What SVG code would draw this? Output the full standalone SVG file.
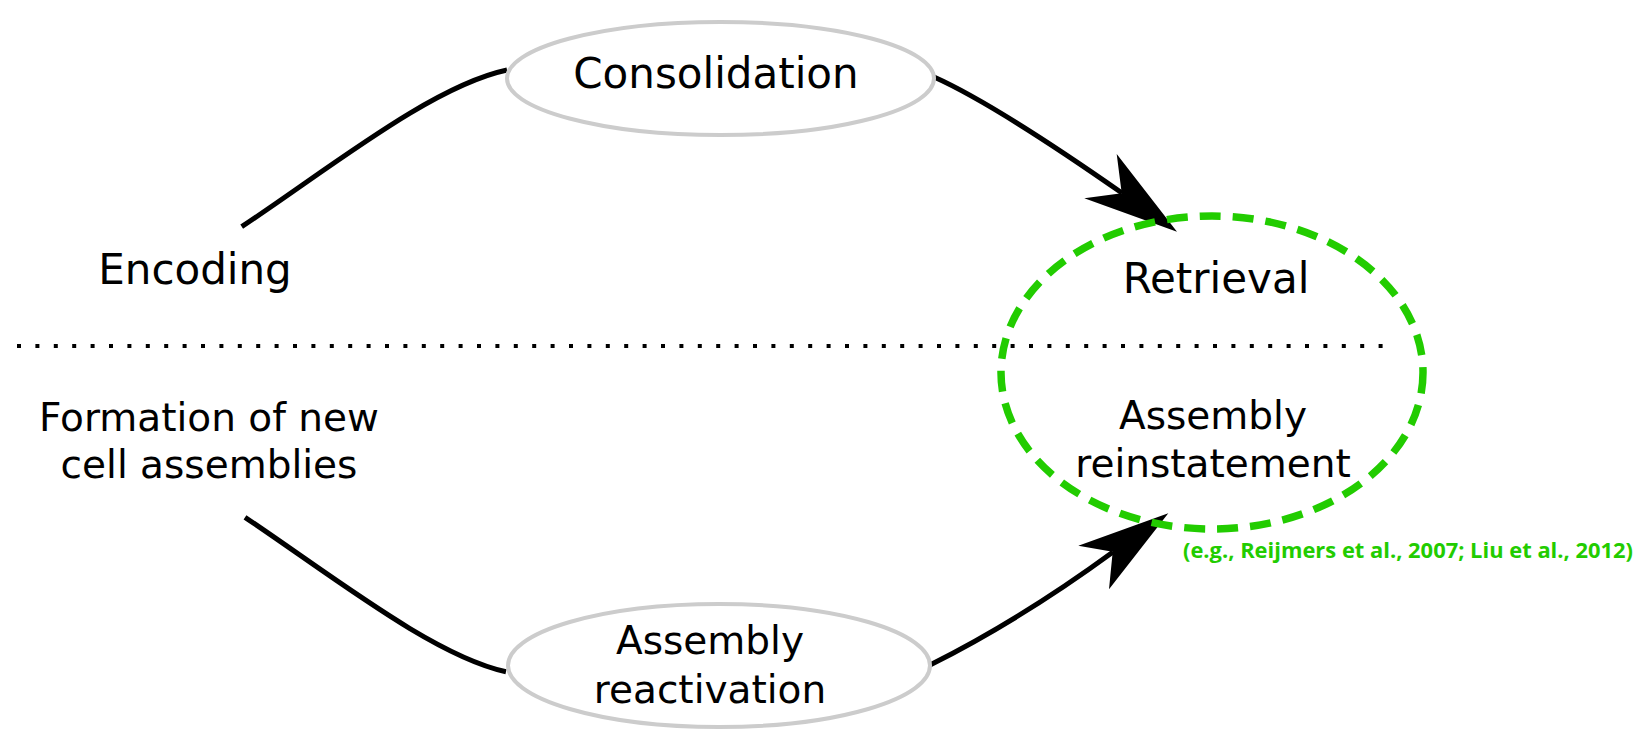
<svg xmlns="http://www.w3.org/2000/svg" width="1641" height="729" viewBox="0 0 1641 729">
  <style>
    .label { font-family: "DejaVu Sans", "Liberation Sans", sans-serif; fill: #000; text-anchor: middle; }
    .node-shape { fill: #fff; stroke: #cccccc; stroke-width: 4; }
    .edge { fill: none; stroke: #000; stroke-width: 5; }
    .head { fill: #000; stroke: none; }
    .focus { fill: none; stroke: #22cc00; stroke-width: 7.5; stroke-dasharray: 21 12; }
    .divider { stroke: #000; stroke-width: 4; stroke-dasharray: 4 14.4; }
    .cite { font-family: "Open Sans", "Liberation Sans", sans-serif; font-weight: bold; fill: #22cc00; }
  </style>
  <rect width="1641" height="729" fill="#fff"/>

  <!-- separator between behaviour level and assembly level -->
  <line class="divider" x1="17" y1="346" x2="1384" y2="346"/>

  <g id="connectors">
    <!-- Encoding to Consolidation -->
    <path class="edge" d="M241.7,226.7 C330,168 432,86 507,70"/>
    <!-- Consolidation to Retrieval -->
    <path class="edge" d="M934,77 Q995,104.3 1122,193"/>
    <polygon class="head" points="1177,231.7 1116.7,154 1121.7,193.3 1084.3,198.3"/>
    <!-- Formation to Assembly reactivation -->
    <path class="edge" d="M245,517.3 C334,577 434,656 506,671.7"/>
    <!-- Assembly reactivation to Assembly reinstatement -->
    <path class="edge" d="M930,665 Q1020,620 1113,552"/>
    <polygon class="head" points="1168.3,513.3 1078.3,545.7 1112.7,551.7 1109,589.3"/>
  </g>

  <g id="encoding">
    <text class="label" x="195" y="284" font-size="42">Encoding</text>
  </g>

  <g id="formation">
    <text class="label" x="209" y="431" font-size="39">Formation of new</text>
    <text class="label" x="209" y="478" font-size="39">cell assemblies</text>
  </g>

  <g id="consolidation">
    <ellipse class="node-shape" cx="720.5" cy="78.5" rx="213.5" ry="56.5"/>
    <text class="label" x="716" y="88" font-size="42">Consolidation</text>
  </g>

  <g id="reactivation">
    <ellipse class="node-shape" cx="719" cy="665.5" rx="211" ry="61.5"/>
    <text class="label" x="710" y="654" font-size="39">Assembly</text>
    <text class="label" x="710" y="703" font-size="39">reactivation</text>
  </g>

  <g id="retrieval">
    <ellipse class="focus" cx="1212" cy="372.5" rx="211" ry="156.5"/>
    <text class="label" x="1216" y="293" font-size="42">Retrieval</text>
    <text class="label" x="1213" y="429" font-size="39">Assembly</text>
    <text class="label" x="1213" y="477" font-size="39">reinstatement</text>
    <text class="cite" x="1183" y="558" font-size="22" textLength="450" lengthAdjust="spacingAndGlyphs">(e.g., Reijmers et al., 2007; Liu et al., 2012)</text>
  </g>
</svg>
